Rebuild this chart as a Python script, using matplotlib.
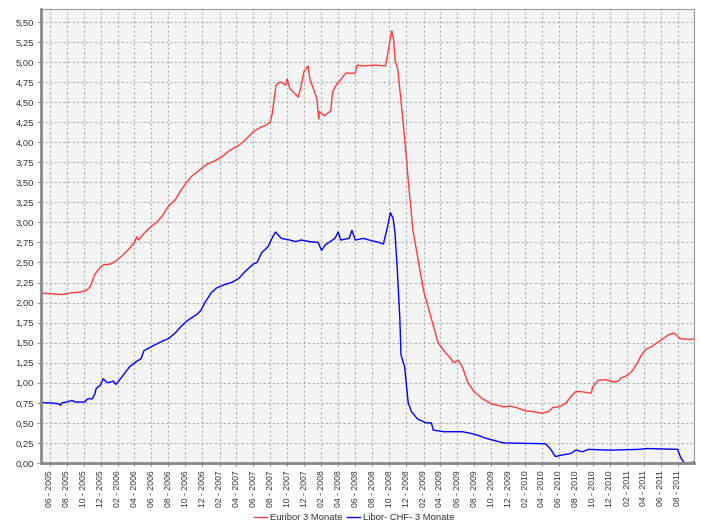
import pandas as pd
import matplotlib.pyplot as plt
import matplotlib.dates as mdates
from matplotlib.ticker import MultipleLocator, FuncFormatter

# Euribor 3 Monate
euribor_dates = [
    "2005-05-01", "2005-06-01", "2005-07-15", "2005-08-15", "2005-09-15", "2005-10-10",
    "2005-10-25", "2005-11-10", "2005-11-25", "2005-12-10", "2006-01-05", "2006-01-25",
    "2006-02-15", "2006-03-10", "2006-04-01", "2006-04-10", "2006-04-15", "2006-05-10",
    "2006-06-01", "2006-06-20", "2006-07-10", "2006-08-01", "2006-08-25", "2006-09-15",
    "2006-10-05", "2006-10-25", "2006-11-20", "2006-12-15", "2007-01-10", "2007-02-10",
    "2007-03-10", "2007-04-15", "2007-05-10", "2007-06-01", "2007-06-25", "2007-07-20",
    "2007-08-01", "2007-08-08", "2007-08-15", "2007-08-22", "2007-09-05", "2007-09-15",
    "2007-09-25", "2007-10-01", "2007-10-10", "2007-11-10", "2007-11-20", "2007-11-30",
    "2007-12-15", "2007-12-22", "2008-01-15", "2008-01-22", "2008-01-24", "2008-02-12",
    "2008-03-05", "2008-03-12", "2008-03-28", "2008-04-10", "2008-04-28", "2008-06-01",
    "2008-06-08", "2008-06-30", "2008-08-07", "2008-09-18", "2008-09-28", "2008-10-10",
    "2008-10-17", "2008-10-22", "2008-11-01", "2008-11-20", "2008-12-01", "2008-12-08",
    "2008-12-25", "2009-02-01", "2009-03-01", "2009-03-25", "2009-04-15", "2009-05-10",
    "2009-05-20", "2009-06-05", "2009-06-20", "2009-07-10", "2009-08-01", "2009-09-01",
    "2009-10-01", "2009-11-15", "2009-12-10", "2010-01-10", "2010-02-01", "2010-03-01",
    "2010-04-01", "2010-04-25", "2010-05-10", "2010-06-01", "2010-06-25", "2010-07-20",
    "2010-08-01", "2010-08-20", "2010-09-25", "2010-10-01", "2010-10-20", "2010-11-15",
    "2010-12-15", "2011-01-01", "2011-01-10", "2011-02-01", "2011-02-20", "2011-03-10",
    "2011-03-25", "2011-04-10", "2011-04-30", "2011-05-20", "2011-06-10", "2011-06-30",
    "2011-07-20", "2011-08-01", "2011-08-10", "2011-09-15", "2011-10-01",
]
euribor_values = [
    2.12, 2.11, 2.10, 2.12, 2.13, 2.15,
    2.20, 2.35, 2.42, 2.47, 2.48, 2.52,
    2.58, 2.66, 2.75, 2.82, 2.78, 2.88,
    2.95, 3.00, 3.08, 3.20, 3.28, 3.40,
    3.50, 3.58, 3.65, 3.72, 3.76, 3.82,
    3.90, 3.97, 4.05, 4.13, 4.18, 4.22,
    4.25, 4.35, 4.53, 4.71, 4.75, 4.74,
    4.71, 4.79, 4.67, 4.56, 4.70, 4.88,
    4.95, 4.78, 4.55, 4.29, 4.38, 4.33,
    4.39, 4.63, 4.73, 4.78, 4.86, 4.86,
    4.96, 4.95, 4.96, 4.95, 5.15, 5.39,
    5.27, 5.02, 4.90, 4.24, 3.82, 3.53,
    2.90, 2.15, 1.80, 1.50, 1.40, 1.30,
    1.25, 1.28, 1.20, 1.00, 0.89, 0.80,
    0.74, 0.70, 0.71, 0.68, 0.65, 0.64,
    0.62, 0.64, 0.69, 0.70, 0.74, 0.85,
    0.89, 0.89, 0.87, 0.95, 1.03, 1.04,
    1.01, 1.02, 1.06, 1.09, 1.15, 1.25,
    1.35, 1.42, 1.45, 1.50, 1.55, 1.60,
    1.62, 1.58, 1.55, 1.54, 1.55,
]

# Libor CHF 3 Monate
libor_dates = [
    "2005-05-01", "2005-05-15", "2005-06-01", "2005-07-01", "2005-07-10", "2005-07-15",
    "2005-08-01", "2005-08-20", "2005-09-01", "2005-10-05", "2005-10-15", "2005-11-01",
    "2005-11-10", "2005-11-15", "2005-11-30", "2005-12-10", "2005-12-25", "2006-01-15",
    "2006-01-25", "2006-02-10", "2006-02-25", "2006-03-15", "2006-04-10", "2006-04-25",
    "2006-05-05", "2006-06-01", "2006-07-10", "2006-08-01", "2006-08-25", "2006-09-20",
    "2006-10-10", "2006-11-10", "2006-11-25", "2006-12-10", "2007-01-01", "2007-01-20",
    "2007-02-15", "2007-03-15", "2007-04-10", "2007-05-01", "2007-06-01", "2007-06-15",
    "2007-07-01", "2007-07-25", "2007-08-10", "2007-08-20", "2007-09-10", "2007-10-10",
    "2007-11-01", "2007-11-20", "2007-12-20", "2008-01-20", "2008-02-01", "2008-02-15",
    "2008-03-20", "2008-04-01", "2008-04-10", "2008-05-10", "2008-05-20", "2008-06-01",
    "2008-07-01", "2008-07-20", "2008-08-25", "2008-09-10", "2008-09-25", "2008-10-05",
    "2008-10-15", "2008-10-22", "2008-10-30", "2008-11-08", "2008-11-12", "2008-11-25",
    "2008-12-08", "2008-12-20", "2009-01-10", "2009-02-10", "2009-03-01", "2009-03-08",
    "2009-04-15", "2009-06-20", "2009-07-20", "2009-08-20", "2009-09-10", "2009-10-25",
    "2009-11-15", "2010-04-15", "2010-05-01", "2010-05-20", "2010-06-01", "2010-06-15",
    "2010-07-15", "2010-08-01", "2010-08-25", "2010-09-15", "2010-12-01", "2011-03-15",
    "2011-04-15", "2011-08-01", "2011-08-12", "2011-08-25", "2011-09-20", "2011-10-01",
]
libor_values = [
    0.76, 0.75, 0.75, 0.74, 0.72, 0.75,
    0.76, 0.78, 0.76, 0.76, 0.80, 0.80,
    0.86, 0.93, 0.97, 1.05, 1.00, 1.02,
    0.98, 1.05, 1.12, 1.20, 1.27, 1.30,
    1.40, 1.45, 1.52, 1.55, 1.62, 1.72,
    1.78, 1.85, 1.90, 2.00, 2.12, 2.18,
    2.22, 2.25, 2.30, 2.38, 2.48, 2.50,
    2.62, 2.70, 2.82, 2.88, 2.80, 2.78,
    2.76, 2.78, 2.76, 2.75, 2.65, 2.72,
    2.80, 2.88, 2.78, 2.80, 2.90, 2.78,
    2.80, 2.78, 2.75, 2.73, 2.95, 3.12,
    3.05, 2.85, 2.40, 1.80, 1.35, 1.20,
    0.75, 0.64, 0.55, 0.50, 0.50, 0.41,
    0.39, 0.39, 0.37, 0.34, 0.31, 0.27,
    0.25, 0.24, 0.18, 0.08, 0.09, 0.10,
    0.12, 0.16, 0.14, 0.17, 0.16, 0.17,
    0.18, 0.17, 0.07, 0.00, 0.00, 0.02,
]

euribor_label = "Euribor 3 Monate"
libor_label = "Libor- CHF- 3 Monate"

plt.rcParams["font.family"] = ["Liberation Sans", "DejaVu Sans"]

fig = plt.figure(figsize=(7.01, 5.25), dpi=100)
ax = fig.add_axes([41 / 701, 1 - 463 / 525, 653 / 701, 454 / 525])
ax.set_facecolor("#f4f4f4")

ax.plot(pd.to_datetime(euribor_dates), euribor_values, color="#ff3b3b", lw=1.0, label=euribor_label)
ax.plot(pd.to_datetime(libor_dates), libor_values, color="#0000ff", lw=1.0, label=libor_label)

ax.set_xlim(pd.Timestamp("2005-05-01"), pd.Timestamp("2011-09-29"))
ax.set_ylim(0, 5.66)

ax.yaxis.set_major_locator(MultipleLocator(0.25))
ax.yaxis.set_major_formatter(FuncFormatter(lambda v, p: f"{v:.2f}".replace(".", ",")))
ax.xaxis.set_major_locator(mdates.MonthLocator(bymonth=[2, 4, 6, 8, 10, 12]))
ax.xaxis.set_major_formatter(mdates.DateFormatter("%m - %Y"))

ax.tick_params(axis="x", labelrotation=90, labelsize=6.2, length=2, color="#888888",
               pad=3, labelcolor="#333333")
ax.tick_params(axis="y", labelsize=6.8, length=3, color="#999999", pad=2, labelcolor="#333333")

ax.grid(True, color="#b0b0b0", linestyle=(0, (2, 2)), lw=0.8)
for side in ["top", "right"]:
    ax.spines[side].set_color("#999999")
    ax.spines[side].set_linewidth(0.8)
for side in ["left", "bottom"]:
    ax.spines[side].set_color("#888888")
    ax.spines[side].set_linewidth(2)

fig.legend(loc="center", bbox_to_anchor=(354 / 701, 1 - 518 / 525), ncol=2, frameon=False,
           fontsize=6.8, handlelength=1.4, columnspacing=0.5, handletextpad=0.3,
           labelcolor="#333333")

fig.savefig("out.png", dpi=100)
